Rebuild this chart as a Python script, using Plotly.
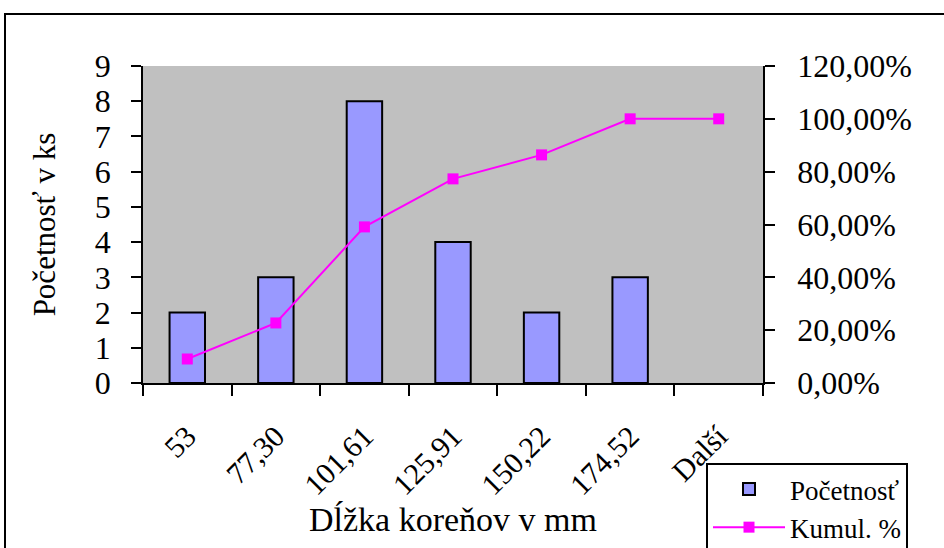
import plotly.graph_objects as go

# Histogram of root lengths: class upper bounds, counts and cumulative share
categories = ["53", "77,30", "101,61", "125,91", "150,22", "174,52", "Další"]
counts = [2, 3, 8, 4, 2, 3, 0]
cumulative = [0.0909, 0.2273, 0.5909, 0.7727, 0.8636, 1.0, 1.0]

left_ticks = list(range(0, 10))
right_ticks = [0, 0.2, 0.4, 0.6, 0.8, 1.0, 1.2]

SERIF = "Liberation Serif"
W, H = 944, 548
L, R, T, B = 143, 181, 66, 165
pw, ph = W - L - R, H - T - B


def px_x(p):
    return (p - L) / pw


def px_y(p):
    return (H - B - p) / ph


fig = go.Figure()

# empty classes get no outline so nothing is drawn at zero height
outline = [2 if c > 0 else 0 for c in counts]

fig.add_trace(go.Bar(
    x=categories, y=counts, name="Početnosť",
    marker=dict(color="#9999ff", line=dict(color="black", width=outline)),
    width=0.4, yaxis="y",
))
fig.add_trace(go.Scatter(
    x=categories, y=cumulative, name="Kumul. %",
    mode="lines+markers",
    line=dict(color="#ff00ff", width=2),
    marker=dict(symbol="square", size=11, color="#ff00ff"),
    yaxis="y2",
))

tick_font = dict(family=SERIF, size=32, color="black")

fig.update_layout(
    width=W, height=H,
    margin=dict(l=L, r=R, t=T, b=B, autoexpand=False),
    paper_bgcolor="white",
    plot_bgcolor="#c0c0c0",
    separators=", ",
    showlegend=True,
    font=dict(family=SERIF, color="black"),
    xaxis=dict(
        type="category", range=[-0.5, 6.5],
        showline=True, linecolor="black", linewidth=1.5,
        ticks="outside", ticklen=11, tickcolor="black", tickwidth=1.5,
        tickson="boundaries", tickangle=-45,
        tickfont=dict(family=SERIF, size=30, color="black"),
        ticklabelstandoff=22,
        showgrid=False, zeroline=False, automargin=False,
        title=dict(text="Dĺžka koreňov v mm",
                   font=dict(family=SERIF, size=34, color="black"), standoff=0),
    ),
    yaxis=dict(
        range=[0, 9], tickvals=left_ticks,
        showline=True, linecolor="black", linewidth=1.5,
        ticks="outside", ticklen=10, tickcolor="black", tickwidth=1.5,
        tickfont=tick_font,
        ticklabelstandoff=14,
        showgrid=False, zeroline=False, automargin=False,
        title=dict(text="Početnosť v ks",
                   font=dict(family=SERIF, size=31, color="black"), standoff=30),
    ),
    yaxis2=dict(
        range=[0, 1.2], tickvals=right_ticks, tickformat=".2%",
        overlaying="y", side="right",
        showline=True, linecolor="black", linewidth=1.5,
        ticks="outside", ticklen=10, tickcolor="black", tickwidth=1.5,
        tickfont=tick_font,
        ticklabelstandoff=16,
        showgrid=False, zeroline=False, automargin=False,
    ),
    # inner halves of the crossing tick marks
    yaxis3=dict(
        range=[0, 9], tickvals=left_ticks, overlaying="y", side="left",
        ticks="inside", ticklen=12, tickcolor="black", tickwidth=1.5,
        showticklabels=False, showline=False, showgrid=False, zeroline=False,
    ),
    yaxis4=dict(
        range=[0, 1.2], tickvals=right_ticks, overlaying="y", side="right",
        ticks="inside", ticklen=11, tickcolor="black", tickwidth=1.5,
        showticklabels=False, showline=False, showgrid=False, zeroline=False,
    ),
    legend=dict(
        x=px_x(706), y=px_y(463), xanchor="left", yanchor="top",
        bgcolor="white", bordercolor="black", borderwidth=2,
        font=dict(family=SERIF, size=27, color="black"),
        itemwidth=72, entrywidth=240, tracegroupgap=0,
    ),
    shapes=[dict(
        type="rect", xref="paper", yref="paper",
        x0=px_x(5), x1=px_x(980), y0=px_y(14), y1=px_y(600),
        line=dict(color="black", width=2), fillcolor="rgba(0,0,0,0)",
        layer="below",
    )],
)

fig.write_html("out.html")
